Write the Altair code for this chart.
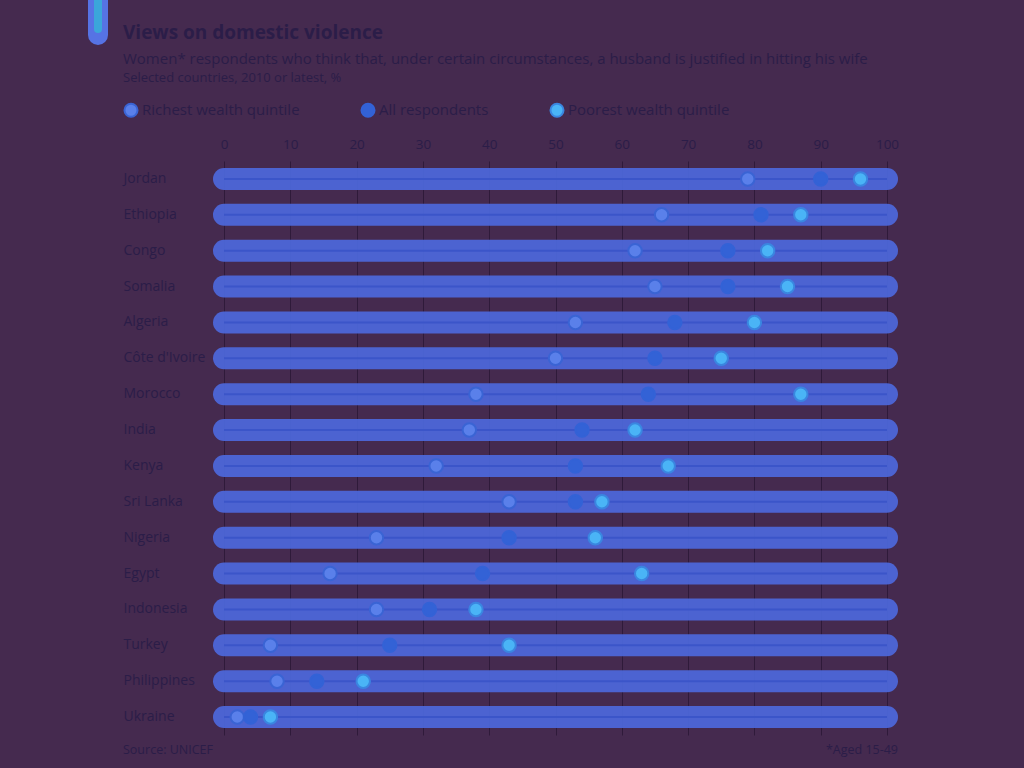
import altair as alt
import pandas as pd

countries = ["Jordan", "Ethiopia", "Congo", "Somalia", "Algeria", "Côte d'Ivoire", "Morocco",
             "India", "Kenya", "Sri Lanka", "Nigeria", "Egypt", "Indonesia", "Turkey",
             "Philippines", "Ukraine"]
richest = [79, 66, 62, 65, 53, 50, 38, 37, 32, 43, 23, 16, 23, 7, 8, 2]
all_resp = [90, 81, 76, 76, 68, 65, 64, 54, 53, 53, 43, 39, 31, 25, 14, 4]
poorest = [96, 87, 82, 85, 80, 75, 87, 62, 67, 57, 56, 63, 38, 43, 21, 7]
groups = ["Richest wealth quintile", "All respondents", "Poorest wealth quintile"]
x_ticks = [0, 10, 20, 30, 40, 50, 60, 70, 80, 90, 100]

TITLE = "Views on domestic violence"
SUBTITLE = "Women* respondents who think that, under certain circumstances, a husband is justified in hitting his wife"
SUBTITLE2 = "Selected countries, 2010 or latest, %"
SOURCE = "Source: UNICEF"
NOTE = "*Aged 15-49"

BG = "#452a4f"
TXT = "#2b1d48"
FONT = "Open Sans"

rows = pd.DataFrame({"country": countries, "start": [0] * len(countries), "end": [100] * len(countries)})
recs = []
for c, r, a, p in zip(countries, richest, all_resp, poorest):
    recs.append({"country": c, "group": groups[0], "value": r})
    recs.append({"country": c, "group": groups[1], "value": a})
    recs.append({"country": c, "group": groups[2], "value": p})
dots = pd.DataFrame(recs)

xscale = alt.Scale(domain=[0, 100], nice=False, zero=False)
xaxis = alt.Axis(orient="top", values=x_ticks, domain=False, ticks=False, labelPadding=10,
                 labelFlush=False, labelFontSize=13.5, labelColor=TXT, labelFont=FONT, grid=True,
                 gridColor="#2f1a3a", gridWidth=1, title=None)
yaxis = alt.Axis(orient="left", domain=False, ticks=False, labelAlign="left", labelPadding=101,
                 labelFontSize=14, labelColor=TXT, labelFont=FONT, title=None, labelLimit=200)

band = alt.Chart(rows).mark_rule(strokeWidth=22, strokeCap="round", color="#4d68dc", opacity=0.92).encode(
    x=alt.X("start:Q", scale=xscale, axis=xaxis),
    x2="end:Q",
    y=alt.Y("country:N", sort=countries, axis=yaxis),
)
thin = alt.Chart(rows).mark_rule(strokeWidth=2, color="#3b55c9").encode(
    x=alt.X("start:Q", scale=xscale),
    x2="end:Q",
    y=alt.Y("country:N", sort=countries),
)
pts = alt.Chart(dots).mark_point(filled=False, size=180, strokeWidth=2, opacity=1, shape="circle").encode(
    x=alt.X("value:Q", scale=xscale),
    y=alt.Y("country:N", sort=countries),
    fill=alt.Fill("group:N", scale=alt.Scale(domain=groups, range=["#5a80ea", "#3362d6", "#4ab4f6"]),
                  legend=alt.Legend(title=None, orient="none", legendX=-101, legendY=-59,
                                    direction="horizontal", columnPadding=57, labelFontSize=15,
                                    labelColor=TXT, labelFont=FONT, symbolSize=170, labelLimit=400,
                                    symbolStrokeWidth=2, labelOffset=3, symbolType="circle")),
    stroke=alt.Stroke("group:N", scale=alt.Scale(domain=groups, range=["#3a64d4", "#3362d6", "#3a86e0"])),
)

tag_data = pd.DataFrame({"k": ["tag"]})
tag_outer = alt.Chart(tag_data).mark_rule(strokeWidth=20, strokeCap="round", color="#5673e4").encode(
    x=alt.value(-126), y=alt.value(-175), y2=alt.value(-126))
tag_inner = alt.Chart(tag_data).mark_rule(strokeWidth=8, strokeCap="round", color="#3ba6da").encode(
    x=alt.value(-126), y=alt.value(-175), y2=alt.value(-132))


def txt(s, x, y, size, align="left", weight="normal"):
    return alt.Chart(pd.DataFrame({"t": [s]})).mark_text(
        align=align, baseline="middle", fontSize=size, font=FONT, color=TXT, fontWeight=weight
    ).encode(x=alt.value(x), y=alt.value(y), text="t:N")


title = txt(TITLE, -101, -128, 19, weight="bold")
sub = txt(SUBTITLE, -101, -102, 15)
sel = txt(SUBTITLE2, -101, -83, 13)
src = txt(SOURCE, -101, 589, 12.5)
note = txt(NOTE, 674, 589, 12.5, align="right")

chart = alt.layer(band, thin, pts, title, sub, sel, src, note, tag_outer, tag_inner).properties(
    width=663, height=574,
    background=BG,
    autosize=alt.AutoSizeParams(type="none"),
    padding={"left": 224, "top": 161, "right": 137, "bottom": 33},
).configure_view(stroke=None)

chart.save("out.html", embed_options={"renderer": "svg", "actions": False})
